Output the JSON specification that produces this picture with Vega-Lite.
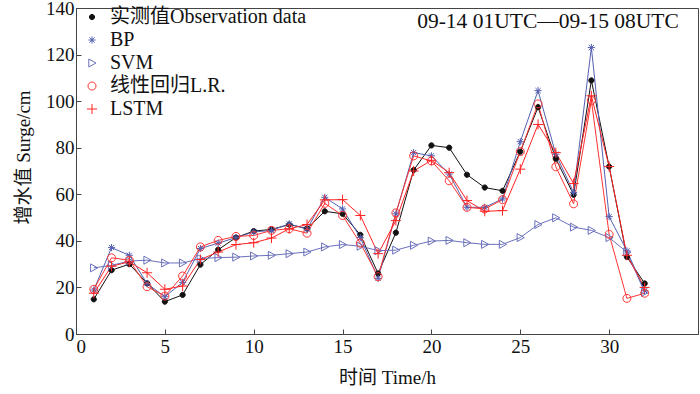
{
  "$schema": "https://vega.github.io/schema/vega-lite/v6.json",
  "width": 622,
  "height": 326,
  "autosize": {"type": "none"},
  "padding": {"left": 76, "top": 8, "right": 2, "bottom": 60},
  "background": "white",
  "config": {
    "font": "Liberation Serif, Noto Sans CJK SC",
    "view": {"stroke": "#444", "strokeWidth": 1},
    "axis": {
      "grid": false,
      "domainColor": "#444",
      "tickColor": "#444",
      "tickSize": -5,
      "labelFont": "Liberation Serif",
      "labelFontSize": 19,
      "labelColor": "#111",
      "titleFont": "Liberation Serif, Noto Sans CJK SC",
      "titleFontSize": 19,
      "titleFontWeight": "normal",
      "titleColor": "#111"
    },
    "legend": {
      "orient": "none",
      "legendX": 6,
      "legendY": -1,
      "title": null,
      "labelFont": "Liberation Serif, Noto Sans CJK SC",
      "labelFontSize": 20,
      "labelColor": "#111",
      "labelLimit": 0,
      "labelOffset": 8,
      "rowPadding": 3,
      "symbolSize": 64,
      "symbolStrokeWidth": 1
    }
  },
  "datasets": {
    "d": [
      {"t":1,"s":"实测值Observation data","v":14.9},{"t":2,"s":"实测值Observation data","v":27.4},{"t":3,"s":"实测值Observation data","v":30},{"t":4,"s":"实测值Observation data","v":21.8},{"t":5,"s":"实测值Observation data","v":13.9},{"t":6,"s":"实测值Observation data","v":16.8},{"t":7,"s":"实测值Observation data","v":29.8},{"t":8,"s":"实测值Observation data","v":36.2},{"t":9,"s":"实测值Observation data","v":41.4},{"t":10,"s":"实测值Observation data","v":44.2},{"t":11,"s":"实测值Observation data","v":44.9},{"t":12,"s":"实测值Observation data","v":47},{"t":13,"s":"实测值Observation data","v":45.3},{"t":14,"s":"实测值Observation data","v":52.7},{"t":15,"s":"实测值Observation data","v":51.6},{"t":16,"s":"实测值Observation data","v":42.6},{"t":17,"s":"实测值Observation data","v":26},{"t":18,"s":"实测值Observation data","v":43.5},{"t":19,"s":"实测值Observation data","v":70.4},{"t":20,"s":"实测值Observation data","v":81},{"t":21,"s":"实测值Observation data","v":80},{"t":22,"s":"实测值Observation data","v":68.4},{"t":23,"s":"实测值Observation data","v":62.9},{"t":24,"s":"实测值Observation data","v":61.5},{"t":25,"s":"实测值Observation data","v":78.3},{"t":26,"s":"实测值Observation data","v":97.4},{"t":27,"s":"实测值Observation data","v":75.3},{"t":28,"s":"实测值Observation data","v":59.8},{"t":29,"s":"实测值Observation data","v":108.9},{"t":30,"s":"实测值Observation data","v":71.9},{"t":31,"s":"实测值Observation data","v":33.1},{"t":32,"s":"实测值Observation data","v":21.7},
      {"t":1,"s":"BP","v":18.9},{"t":2,"s":"BP","v":37.1},{"t":3,"s":"BP","v":33.8},{"t":4,"s":"BP","v":21.7},{"t":5,"s":"BP","v":16},{"t":6,"s":"BP","v":22.2},{"t":7,"s":"BP","v":36.7},{"t":8,"s":"BP","v":39},{"t":9,"s":"BP","v":41.4},{"t":10,"s":"BP","v":43.8},{"t":11,"s":"BP","v":44.5},{"t":12,"s":"BP","v":47.3},{"t":13,"s":"BP","v":45},{"t":14,"s":"BP","v":58.7},{"t":15,"s":"BP","v":53.7},{"t":16,"s":"BP","v":41.4},{"t":17,"s":"BP","v":23.9},{"t":18,"s":"BP","v":51.6},{"t":19,"s":"BP","v":77.9},{"t":20,"s":"BP","v":76.5},{"t":21,"s":"BP","v":68.7},{"t":22,"s":"BP","v":54.4},{"t":23,"s":"BP","v":54.4},{"t":24,"s":"BP","v":58},{"t":25,"s":"BP","v":82.6},{"t":26,"s":"BP","v":104.5},{"t":27,"s":"BP","v":77.2},{"t":28,"s":"BP","v":60.8},{"t":29,"s":"BP","v":123},{"t":30,"s":"BP","v":50.4},{"t":31,"s":"BP","v":35.7},{"t":32,"s":"BP","v":18.6},
      {"t":1,"s":"SVM","v":28.4},{"t":2,"s":"SVM","v":29.5},{"t":3,"s":"SVM","v":31.3},{"t":4,"s":"SVM","v":31.7},{"t":5,"s":"SVM","v":30.5},{"t":6,"s":"SVM","v":30.5},{"t":7,"s":"SVM","v":32.4},{"t":8,"s":"SVM","v":32.8},{"t":9,"s":"SVM","v":33},{"t":10,"s":"SVM","v":33.5},{"t":11,"s":"SVM","v":33.8},{"t":12,"s":"SVM","v":34.5},{"t":13,"s":"SVM","v":35.2},{"t":14,"s":"SVM","v":37.4},{"t":15,"s":"SVM","v":38.4},{"t":16,"s":"SVM","v":37.7},{"t":17,"s":"SVM","v":35.8},{"t":18,"s":"SVM","v":36},{"t":19,"s":"SVM","v":38.1},{"t":20,"s":"SVM","v":39.9},{"t":21,"s":"SVM","v":40.2},{"t":22,"s":"SVM","v":39.2},{"t":23,"s":"SVM","v":38.5},{"t":24,"s":"SVM","v":38.5},{"t":25,"s":"SVM","v":41.4},{"t":26,"s":"SVM","v":47},{"t":27,"s":"SVM","v":49.9},{"t":28,"s":"SVM","v":45.9},{"t":29,"s":"SVM","v":44.5},{"t":30,"s":"SVM","v":41.4},{"t":31,"s":"SVM","v":35.2},{"t":32,"s":"SVM","v":17.9},
      {"t":1,"s":"线性回归L.R.","v":19.2},{"t":2,"s":"线性回归L.R.","v":32.7},{"t":3,"s":"线性回归L.R.","v":31.7},{"t":4,"s":"线性回归L.R.","v":20.3},{"t":5,"s":"线性回归L.R.","v":16.3},{"t":6,"s":"线性回归L.R.","v":24.9},{"t":7,"s":"线性回归L.R.","v":37.4},{"t":8,"s":"线性回归L.R.","v":40.2},{"t":9,"s":"线性回归L.R.","v":41.9},{"t":10,"s":"线性回归L.R.","v":42.3},{"t":11,"s":"线性回归L.R.","v":44.5},{"t":12,"s":"线性回归L.R.","v":45.2},{"t":13,"s":"线性回归L.R.","v":43.3},{"t":14,"s":"线性回归L.R.","v":56.1},{"t":15,"s":"线性回归L.R.","v":50.9},{"t":16,"s":"线性回归L.R.","v":39},{"t":17,"s":"线性回归L.R.","v":24.6},{"t":18,"s":"线性回归L.R.","v":52},{"t":19,"s":"线性回归L.R.","v":76.5},{"t":20,"s":"线性回归L.R.","v":74.3},{"t":21,"s":"线性回归L.R.","v":65.8},{"t":22,"s":"线性回归L.R.","v":54.4},{"t":23,"s":"线性回归L.R.","v":53.7},{"t":24,"s":"线性回归L.R.","v":57.7},{"t":25,"s":"线性回归L.R.","v":78.3},{"t":26,"s":"线性回归L.R.","v":98.8},{"t":27,"s":"线性回归L.R.","v":71.8},{"t":28,"s":"线性回归L.R.","v":55.9},{"t":29,"s":"线性回归L.R.","v":100.3},{"t":30,"s":"线性回归L.R.","v":42.8},{"t":31,"s":"线性回归L.R.","v":15.3},{"t":32,"s":"线性回归L.R.","v":17.5},
      {"t":1,"s":"LSTM","v":17.5},{"t":2,"s":"LSTM","v":29.1},{"t":3,"s":"LSTM","v":31},{"t":4,"s":"LSTM","v":26.3},{"t":5,"s":"LSTM","v":19.2},{"t":6,"s":"LSTM","v":20.6},{"t":7,"s":"LSTM","v":32},{"t":8,"s":"LSTM","v":35.2},{"t":9,"s":"LSTM","v":38.4},{"t":10,"s":"LSTM","v":39.2},{"t":11,"s":"LSTM","v":41.2},{"t":12,"s":"LSTM","v":45.2},{"t":13,"s":"LSTM","v":47},{"t":14,"s":"LSTM","v":57.6},{"t":15,"s":"LSTM","v":57.7},{"t":16,"s":"LSTM","v":50.9},{"t":17,"s":"LSTM","v":34.5},{"t":18,"s":"LSTM","v":48.7},{"t":19,"s":"LSTM","v":70},{"t":20,"s":"LSTM","v":74.6},{"t":21,"s":"LSTM","v":69.3},{"t":22,"s":"LSTM","v":57.3},{"t":23,"s":"LSTM","v":52.7},{"t":24,"s":"LSTM","v":53},{"t":25,"s":"LSTM","v":70.8},{"t":26,"s":"LSTM","v":90},{"t":27,"s":"LSTM","v":77.9},{"t":28,"s":"LSTM","v":64.6},{"t":29,"s":"LSTM","v":102.3},{"t":30,"s":"LSTM","v":71.9},{"t":31,"s":"LSTM","v":33.8},{"t":32,"s":"LSTM","v":20}
    ]
  },
  "layer": [
    {
      "data": {"name": "d"},
      "mark": {"type": "line", "strokeWidth": 1},
      "encoding": {
        "x": {"field": "t", "type": "quantitative", "scale": {"domain": [0, 35], "nice": false}, "axis": {"values": [0,5,10,15,20,25,30], "title": "时间 Time/h", "titlePadding": 12, "labelPadding": 8}},
        "y": {"field": "v", "type": "quantitative", "scale": {"domain": [0, 140], "nice": false}, "axis": {"values": [0,20,40,60,80,100,120,140], "title": "增水值 Surge/cm", "titlePadding": 12, "labelPadding": 7, "titleY": 149}},
        "color": {"field": "s", "type": "nominal", "sort": null, "scale": {"domain": ["实测值Observation data","BP","SVM","线性回归L.R.","LSTM"], "range": ["#111111","#5560b0","#6a70bb","#ff3333","#ff2222"]}}
      }
    },
    {
      "data": {"name": "d"},
      "mark": {"type": "point", "filled": false, "strokeWidth": 1, "opacity": 1, "size": 64},
      "encoding": {
        "x": {"field": "t", "type": "quantitative"},
        "y": {"field": "v", "type": "quantitative"},
        "color": {"field": "s", "type": "nominal", "sort": null},
        "shape": {"field": "s", "type": "nominal", "sort": null, "scale": {"domain": ["实测值Observation data","BP","SVM","线性回归L.R.","LSTM"], "range": ["M-0.65,0A0.65,0.65 0 1,1 0.65,0A0.65,0.65 0 1,1 -0.65,0Z","M-0.9,0L0.9,0M0,-0.9L0,0.9M-0.65,-0.65L0.65,0.65M-0.65,0.65L0.65,-0.65","M-0.8,-1L1,0L-0.8,1Z","M-1,0A1,1 0 1,1 1,0A1,1 0 1,1 -1,0Z","M-1.25,0L1.25,0M0,-1.25L0,1.25"]}},
        "fill": {"field": "s", "type": "nominal", "sort": null, "scale": {"domain": ["实测值Observation data","BP","SVM","线性回归L.R.","LSTM"], "range": ["#111111","transparent","transparent","transparent","transparent"]}}
      }
    },
    {
      "data": {"values": [{}]},
      "mark": {"type": "text", "align": "left", "baseline": "middle", "fontSize": 21.5, "font": "Liberation Serif", "color": "#111"},
      "encoding": {
        "x": {"datum": 19.2},
        "y": {"datum": 134},
        "text": {"value": "09-14 01UTC—09-15 08UTC"}
      }
    }
  ]
}
